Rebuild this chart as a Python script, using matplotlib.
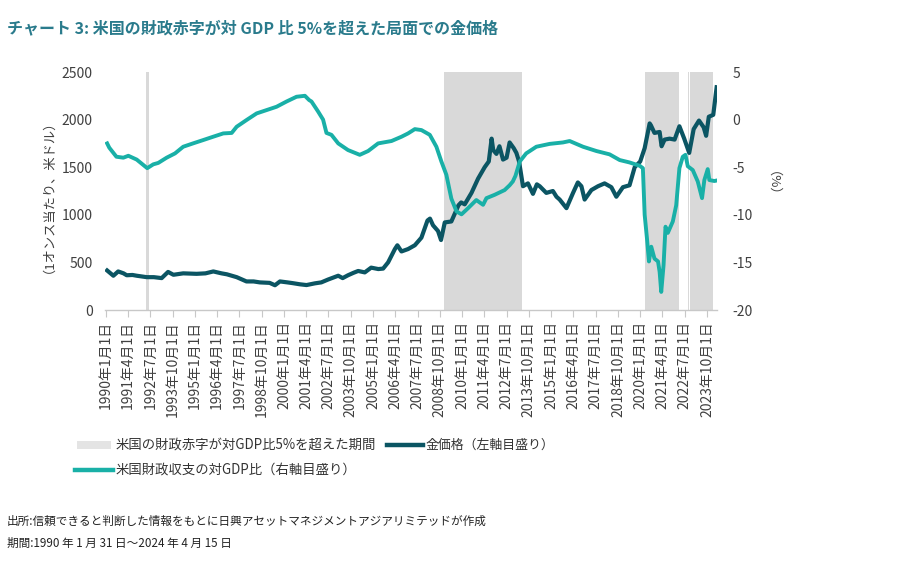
import matplotlib
matplotlib.use("Agg")
import matplotlib.pyplot as plt
from matplotlib.lines import Line2D
from matplotlib.patches import Rectangle

plt.rcParams['font.family'] = ['Noto Sans CJK JP', 'DejaVu Sans']

# ---------------- data (decimal years) ----------------
gold_t = [1990.08, 1990.43, 1990.70, 1991.00, 1991.18, 1991.50, 1991.74, 1992.30, 1992.70,
          1993.14, 1993.50, 1993.80, 1994.35, 1995.10, 1995.60, 1996.04, 1996.50, 1996.80,
          1997.35, 1997.90, 1998.30, 1998.65, 1999.20, 1999.50, 1999.78, 2000.20, 2000.50,
          2000.90, 2001.27, 2001.74, 2002.10, 2002.48, 2003.05, 2003.30, 2003.60, 2003.90,
          2004.17, 2004.54, 2004.90, 2005.30, 2005.57, 2005.85, 2006.23, 2006.37, 2006.60,
          2006.97, 2007.35, 2007.72, 2008.06, 2008.20, 2008.37, 2008.65, 2008.82, 2009.03,
          2009.40, 2009.80, 2009.95, 2010.15, 2010.53, 2010.90, 2011.27, 2011.50, 2011.66,
          2011.75, 2011.93, 2012.10, 2012.30, 2012.50, 2012.67, 2012.90, 2013.05, 2013.20,
          2013.42, 2013.70, 2013.98, 2014.20, 2014.36, 2014.73, 2015.10, 2015.30, 2015.48,
          2015.86, 2016.23, 2016.50, 2016.70, 2016.88, 2017.26, 2017.63, 2018.00, 2018.38,
          2018.66, 2019.03, 2019.40, 2019.69, 2020.00, 2020.25, 2020.53, 2020.60, 2020.80,
          2021.09, 2021.20, 2021.37, 2021.65, 2021.93, 2022.20, 2022.47, 2022.75, 2023.00,
          2023.30, 2023.56, 2023.70, 2023.85, 2024.10, 2024.29]
gold_v = [415, 360, 405, 385, 365, 368, 360, 345, 345,
          335, 400, 370, 385, 380, 385, 405, 385, 375,
          345, 300, 300, 290, 285, 260, 300, 290, 282,
          270, 262, 280, 290, 320, 360, 335, 365, 390,
          410, 395, 445, 430, 435, 500, 640, 680, 615,
          640, 680, 760, 940, 960, 890, 830, 735, 920,
          930, 1100, 1130, 1110, 1230, 1380, 1500, 1560, 1800,
          1680, 1640, 1720, 1580, 1600, 1760, 1700, 1650, 1560,
          1300, 1330, 1220, 1320, 1300, 1230, 1250, 1190, 1160,
          1070, 1230, 1340, 1300, 1160, 1260, 1300, 1330, 1290,
          1190, 1290, 1310, 1500, 1560, 1700, 1960, 1940, 1860,
          1870, 1720, 1790, 1800, 1790, 1930, 1800, 1650, 1900,
          1990, 1920, 1830, 2030, 2050, 2340]

bal_t = [1990.08, 1990.20, 1990.60, 1990.99, 1991.27, 1991.74, 1992.10, 1992.33, 1992.67,
         1992.95, 1993.42, 1993.89, 1994.35, 1994.90, 1995.47, 1996.03, 1996.60, 1997.07,
         1997.35, 1997.90, 1998.47, 1999.03, 1999.59, 2000.15, 2000.71, 2001.18, 2001.42,
         2001.55, 2001.92, 2002.20, 2002.39, 2002.67, 2003.05, 2003.60, 2004.26, 2004.73,
         2005.29, 2006.04, 2006.60, 2006.97, 2007.35, 2007.72, 2008.19, 2008.56, 2008.84,
         2009.12, 2009.40, 2009.69, 2009.97, 2010.34, 2010.80, 2011.18, 2011.37, 2011.83,
         2012.39, 2012.67, 2012.85, 2013.00, 2013.24, 2013.60, 2014.17, 2014.92, 2015.66,
         2016.04, 2016.79, 2017.54, 2018.28, 2018.85, 2019.40, 2019.97, 2020.15, 2020.25,
         2020.38, 2020.49, 2020.62, 2020.80, 2021.00, 2021.09, 2021.18, 2021.31, 2021.42,
         2021.55, 2021.83, 2022.02, 2022.20, 2022.39, 2022.54, 2022.67, 2022.95, 2023.23,
         2023.47, 2023.60, 2023.79, 2023.88, 2024.16, 2024.29]
bal_v = [-2.5, -2.95, -3.9, -4.0, -3.8, -4.2, -4.75, -5.1, -4.7,
         -4.55, -4.0, -3.55, -2.85, -2.5, -2.15, -1.8, -1.45, -1.4,
         -0.75, -0.05, 0.65, 1.0, 1.35, 1.9, 2.4, 2.5, 2.05,
         1.9, 0.85, 0.0, -1.4, -1.6, -2.5, -3.2, -3.7, -3.3,
         -2.5, -2.25, -1.8, -1.45, -1.0, -1.1, -1.6, -2.85, -4.4,
         -5.8, -8.3, -9.65, -9.95, -9.3, -8.45, -8.95, -8.25, -7.9,
         -7.4, -6.9, -6.5, -5.9, -4.4, -3.55, -2.85, -2.55, -2.4,
         -2.25, -2.85, -3.3, -3.65, -4.25, -4.5, -4.85, -5.1, -10.0,
         -12.5, -14.9, -13.35, -14.6, -14.9, -16.0, -18.1, -15.3, -11.25,
         -11.9, -10.7, -9.0, -5.1, -3.9, -3.7, -4.9, -5.3, -6.5,
         -8.25, -6.35, -5.2, -6.35, -6.45, -6.4]

# periods where deficit exceeded 5% of GDP (start, end)
shade_start = [1992.24, 2008.97, 2020.25, 2022.67, 2022.80]
shade_end = [1992.43, 2013.39, 2022.20, 2022.72, 2024.10]

tick_labels = ["1990年1月1日", "1991年4月1日", "1992年7月1日", "1993年10月1日",
               "1995年1月1日", "1996年4月1日", "1997年7月1日", "1998年10月1日",
               "2000年1月1日", "2001年4月1日", "2002年7月1日", "2003年10月1日",
               "2005年1月1日", "2006年4月1日", "2007年7月1日", "2008年10月1日",
               "2010年1月1日", "2011年4月1日", "2012年7月1日", "2013年10月1日",
               "2015年1月1日", "2016年4月1日", "2017年7月1日", "2018年10月1日",
               "2020年1月1日", "2021年4月1日", "2022年7月1日", "2023年10月1日"]
tick_pos = [int(s.split("年")[0]) + (int(s.split("年")[1].split("月")[0]) - 1) / 12
            for s in tick_labels]

left_ticks = [0, 500, 1000, 1500, 2000, 2500]
right_ticks = [-20, -15, -10, -5, 0, 5]

GOLD = "#0b5563"
TEAL = "#19b0a7"
SHADE = "#d9d9d9"
TXT = "#404040"

W, H = 918, 563
fig = plt.figure(figsize=(W / 100, H / 100), dpi=100)
ax = fig.add_axes([105 / W, 1 - 310 / H, (717 - 105) / W, (310 - 72) / H])
ax2 = ax.twinx()

for s, e in zip(shade_start, shade_end):
    ax.axvspan(s, e, color=SHADE, lw=0, zorder=0)

ax.plot(gold_t, gold_v, color=GOLD, lw=3.0, solid_joinstyle='round', zorder=3)
ax2.plot(bal_t, bal_v, color=TEAL, lw=2.8, solid_joinstyle='round', zorder=3)

ax.set_xlim(1989.96, 2024.31)
ax.set_ylim(0, 2500)
ax2.set_ylim(-20, 5)
ax.set_yticks(left_ticks)
ax2.set_yticks(right_ticks)
ax.set_yticklabels([str(v) for v in left_ticks], fontsize=10, color=TXT)
ax2.set_yticklabels([str(v) for v in right_ticks], fontsize=10, color=TXT)
ax.tick_params(axis='y', length=0, pad=9)
ax2.tick_params(axis='y', length=0, pad=11)

ax.set_xticks(tick_pos)
ax.set_xticklabels(tick_labels, rotation=90, fontsize=10, color=TXT)
ax.tick_params(axis='x', length=5, color='#c8c8c8', pad=3)

for a in (ax, ax2):
    for sp in ('top', 'left', 'right'):
        a.spines[sp].set_visible(False)
ax2.spines['bottom'].set_visible(False)
ax.spines['bottom'].set_color('#c8c8c8')
ax.spines['bottom'].set_linewidth(1.0)

# axis titles
fig.text(42 / W, 1 - 190 / H, "（1オンス当たり、米ドル）", rotation=90, ha='center', va='center',
         fontsize=9.5, color=TXT)
fig.text(766 / W, 1 - 190 / H, "（%）", rotation=270, ha='center', va='center',
         fontsize=9.5, color=TXT)

# title
fig.text(7 / W, 1 - 28 / H, "チャート 3: 米国の財政赤字が対 GDP 比 5%を超えた局面での金価格",
         ha='left', va='center', fontsize=11.5, fontweight='bold', color='#2a7b8c')

# legend (manual)
fig.patches.append(Rectangle((77 / W, 1 - 449 / H), 34 / W, 8 / H, transform=fig.transFigure,
                             facecolor='#e4e4e4', edgecolor='none'))
fig.text(116 / W, 1 - 445 / H, "米国の財政赤字が対GDP比5%を超えた期間", ha='left', va='center',
         fontsize=9.6, color='#333333')
fig.lines.append(Line2D([387 / W, 423 / W], [1 - 445 / H, 1 - 445 / H], transform=fig.transFigure,
                        color=GOLD, lw=3.2))
fig.text(426 / W, 1 - 445 / H, "金価格（左軸目盛り）", ha='left', va='center',
         fontsize=9.3, color='#333333')
fig.lines.append(Line2D([75 / W, 113 / W], [1 - 470 / H, 1 - 470 / H], transform=fig.transFigure,
                        color=TEAL, lw=3.2))
fig.text(116 / W, 1 - 470 / H, "米国財政収支の対GDP比（右軸目盛り）", ha='left', va='center',
         fontsize=9.6, color='#333333')

# footer
fig.text(7 / W, 1 - 521 / H, "出所:信頼できると判断した情報をもとに日興アセットマネジメントアジアリミテッドが作成",
         ha='left', va='center', fontsize=8.4, color='#222222')
fig.text(7 / W, 1 - 543 / H, "期間:1990 年 1 月 31 日～2024 年 4 月 15 日",
         ha='left', va='center', fontsize=8.4, color='#222222')

fig.savefig("out.png", dpi=100)
